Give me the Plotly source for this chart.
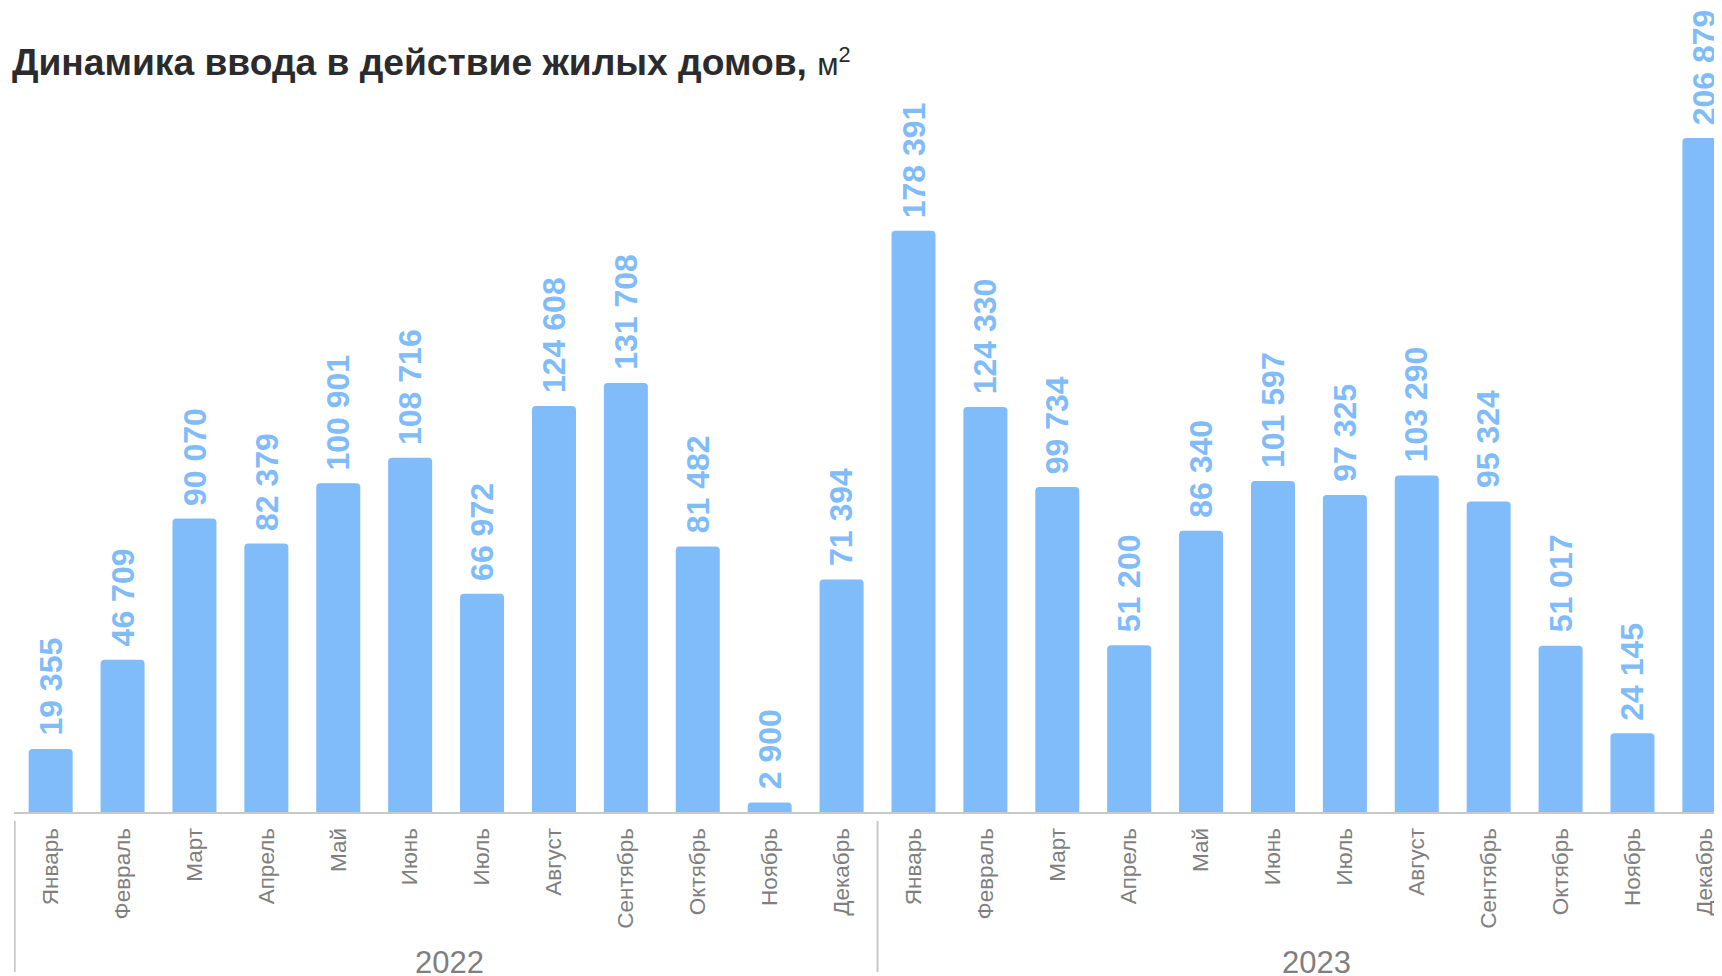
import plotly.graph_objects as go

months = ["Январь", "Февраль", "Март", "Апрель", "Май", "Июнь", "Июль",
          "Август", "Сентябрь", "Октябрь", "Ноябрь", "Декабрь"]
years = ["2022", "2023"]
values_2022 = [19355, 46709, 90070, 82379, 100901, 108716, 66972, 124608,
               131708, 81482, 2900, 71394]
values_2023 = [178391, 124330, 99734, 51200, 86340, 101597, 97325, 103290,
               95324, 51017, 24145, 206879]

values = values_2022 + values_2023
labels = months + months
xs = list(range(len(values)))

BAR = "#80bbfa"
GRID = "#c8c8c8"
FONT = "Liberation Sans, Arial, sans-serif"

def fmt(v):
    return f"{v:,}".replace(",", " ")

fig = go.Figure()
fig.add_trace(go.Bar(
    x=xs, y=values, marker=dict(color=BAR, line=dict(width=0)),
    hoverinfo="skip",
))

for xi, v in zip(xs, values):
    fig.add_annotation(
        x=xi, y=v, xref="x", yref="y", text=fmt(v), textangle=-90,
        showarrow=False, yanchor="bottom", xanchor="center", yshift=11,
        font=dict(family=FONT, size=32, color=BAR, weight="bold"),
    )

n = len(months)
year_shift = [0.05, 0.1]
for k, yr in enumerate(years):
    fig.add_annotation(
        x=k * n + (n - 1) / 2 + year_shift[k], y=-0.2107, xref="x", yref="paper",
        text=yr, showarrow=False, yanchor="middle", xanchor="center",
        font=dict(family=FONT, size=31, color="#7f7f7f"),
    )
for k in range(len(years) + 1):
    fig.add_shape(
        type="line", xref="x", yref="paper", x0=k * n - 0.5, x1=k * n - 0.5,
        y0=-0.0126, y1=-0.2247, line=dict(color=GRID, width=2),
    )

fig.update_layout(
    width=1714, height=968,
    margin=dict(l=6, r=0, t=92, b=164),
    paper_bgcolor="white", plot_bgcolor="white",
    showlegend=False, bargap=0.388, barcornerradius=4,
    title=dict(
        text="<b>Динамика ввода в действие жилых домов,</b> <span style='font-size:31px'>м<sup>2</sup></span>",
        x=0.0023, xanchor="left", xref="container", y=0.944, yanchor="middle",
        font=dict(family=FONT, size=37.2, color="#2b2b2e"),
    ),
    xaxis=dict(
        range=[-0.51, 23.245], tickmode="array", tickvals=xs, ticktext=labels,
        tickangle=-90, ticks="", showgrid=False, zeroline=False,
        showline=True, linecolor=GRID, linewidth=2,
        tickfont=dict(family=FONT, size=22.5, color="#7f7f7f"),
        ticklabelstandoff=5,
    ),
    yaxis=dict(range=[0, 218539], visible=False, showgrid=False, zeroline=False),
)

fig.write_html("out.html")
